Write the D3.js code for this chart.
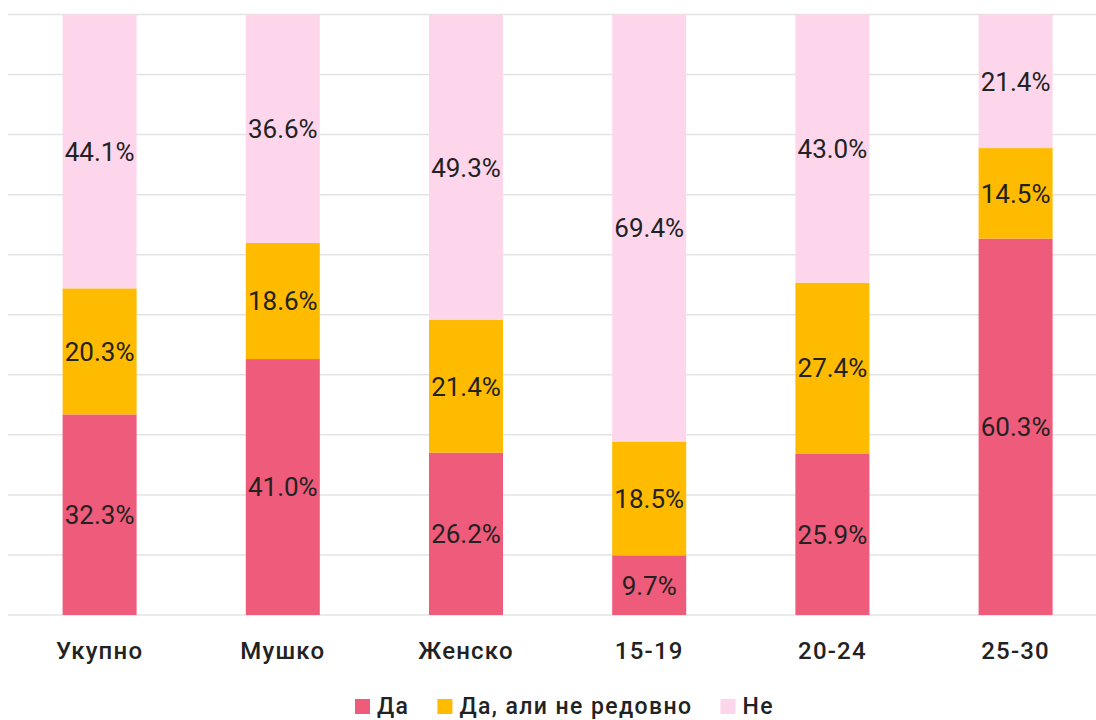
<!DOCTYPE html>
<html>
<head>
<meta charset="utf-8">
<script src="https://cdn.jsdelivr.net/npm/d3@7/dist/d3.min.js"></script>
<style>
  html, body { margin: 0; padding: 0; background: #fff; }
  svg { display: block; }
  text { font-family: Roboto, "Noto Sans", sans-serif; fill: #222; }
</style>
</head>
<body>
<svg id="chart" width="1096" height="720"></svg>
<script>
const categories = ["Укупно", "Мушко", "Женско", "15-19", "20-24", "25-30"];
const seriesNames = ["Да", "Да, али не редовно", "Не"];
const valuesDa = [32.3, 41.0, 26.2, 9.7, 25.9, 60.3];
const valuesDaNeRedovno = [20.3, 18.6, 21.4, 18.5, 27.4, 14.5];
const valuesNe = [44.1, 36.6, 49.3, 69.4, 43.0, 21.4];
const colors = ["#ef5b7b", "#ffbb00", "#fdd6eb"];

const seriesArrays = [valuesDa, valuesDaNeRedovno, valuesNe];
const rows = categories.map((c, i) => {
  const r = { category: c };
  seriesNames.forEach((s, j) => r[s] = seriesArrays[j][i]);
  return r;
});

const svg = d3.select("#chart");
const x = d3.scaleBand().domain(categories).range([8, 1107.2])
  .paddingInner(0.596).paddingOuter(0.298);
const y = d3.scaleLinear().domain([0, 1]).range([615, 14.5]);

// gridlines
svg.append("g").selectAll("line").data(d3.range(0, 11).map(d => d / 10))
  .join("line")
  .attr("x1", 8).attr("x2", 1096)
  .attr("y1", d => y(d)).attr("y2", d => y(d))
  .attr("stroke", "#e3e3e3").attr("stroke-width", 1.5);

const stack = d3.stack().keys(seriesNames).offset(d3.stackOffsetExpand);
const stacked = stack(rows);

const groups = svg.append("g").selectAll("g").data(stacked).join("g")
  .attr("fill", (d, i) => colors[i]);
groups.selectAll("rect").data(d => d).join("rect")
  .attr("x", d => x(d.data.category))
  .attr("width", x.bandwidth())
  .attr("y", d => y(d[1]))
  .attr("height", d => y(d[0]) - y(d[1]));

const labels = svg.append("g");
stacked.forEach((s) => {
  s.forEach(d => {
    labels.append("text")
      .attr("x", x(d.data.category) + x.bandwidth() / 2)
      .attr("y", (y(d[0]) + y(d[1])) / 2)
      .attr("dy", "0.36em")
      .attr("text-anchor", "middle")
      .style("font-size", "26px")
      .text(d.data[s.key].toFixed(1) + "%");
  });
});

// x axis labels
const xAxis = d3.axisBottom(x).tickSize(0).tickPadding(0);
const gx = svg.append("g").attr("transform", "translate(0,659)").call(xAxis);
gx.select(".domain").remove();
gx.selectAll("text")
  .attr("dy", 0).attr("y", 0)
  .style("font-size", "24px").style("font-weight", 500)
  .style("letter-spacing", "1.2px")
  .style("font-family", "Roboto, sans-serif").attr("fill", "#222");

// legend
const legend = svg.append("g");
let lx = 355;
seriesNames.forEach((s, i) => {
  legend.append("rect").attr("x", lx).attr("y", 699).attr("width", 15).attr("height", 15)
    .attr("fill", colors[i]);
  const t = legend.append("text").attr("x", lx + 22).attr("y", 714)
    .style("font-size", "23px").style("font-weight", 500)
    .style("letter-spacing", "1.4px").text(s);
  lx = lx + 22 + t.node().getComputedTextLength() + 28;
});
</script>
</body>
</html>
